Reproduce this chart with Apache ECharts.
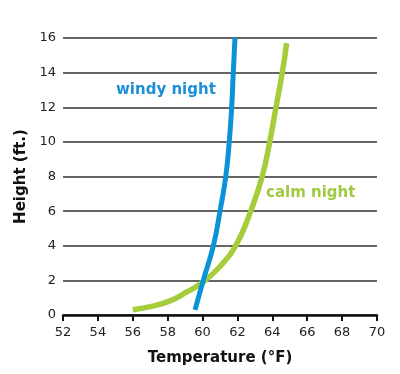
<!DOCTYPE html>
<html>
<head>
<meta charset="utf-8">
<script src="https://cdn.jsdelivr.net/npm/echarts@6/dist/echarts.min.js"></script>
<style>html,body{margin:0;padding:0;background:#fff}#c{width:400px;height:374px}</style>
</head>
<body>
<div id="c"></div>
<script>
// Data
var windyTemp   = [59.57, 60.04, 60.62, 61.0, 61.33, 61.53, 61.67, 61.76, 61.86];
var windyHeight = [0.3,   2,     4,     6,    8,     10,    12,    14,    16];
var calmTemp    = [56.0, 57.0, 58.1, 59.1, 60.05, 61.0, 61.9, 62.76, 63.42, 63.85, 64.21, 64.57, 64.82];
var calmHeight  = [0.3,  0.48, 0.8,  1.33, 1.92,  2.8,  4,    6,     8,     10,    12,    14,    15.7];
var xTicks = [52, 54, 56, 58, 60, 62, 64, 66, 68, 70];
var yTicks = [0, 2, 4, 6, 8, 10, 12, 14, 16];
var seriesNames = ['windy night', 'calm night'];

function pairs(xs, ys){ return xs.map(function(x,i){ return [x, ys[i]]; }); }

var chart = echarts.init(document.getElementById('c'), null, {renderer:'canvas'});
var font = '"DejaVu Sans", sans-serif';
chart.setOption({
  animation:false,
  grid:{left:63, right:23, top:38, bottom:59},
  xAxis:{
    type:'value', min:xTicks[0], max:xTicks[xTicks.length-1], interval:2,
    name:'Temperature (°F)', nameLocation:'middle', nameGap:36,
    nameTextStyle:{fontFamily:font, fontWeight:'bold', fontSize:15, color:'#111'},
    axisLine:{show:true, lineStyle:{color:'#111', width:2.5}},
    axisTick:{show:true, length:6, lineStyle:{color:'#111', width:2}},
    axisLabel:{fontFamily:font, fontSize:13, color:'#222', margin:11},
    splitLine:{show:false}
  },
  yAxis:{
    type:'value', min:yTicks[0], max:yTicks[yTicks.length-1], interval:2,
    name:'Height (ft.)', nameLocation:'middle', nameGap:29,
    nameTextStyle:{fontFamily:font, fontWeight:'bold', fontSize:15, color:'#111'},
    axisLine:{show:false}, axisTick:{show:false},
    axisLabel:{fontFamily:font, fontSize:13, color:'#222', margin:7},
    splitLine:{show:true, lineStyle:{color:'#333', width:1.5}}
  },
  series:[
    {name:seriesNames[0], type:'line', data:pairs(windyTemp, windyHeight), smooth:0.5,
     showSymbol:false, lineStyle:{color:'#0a93d8', width:5, cap:'butt'}, z:3},
    {name:seriesNames[1], type:'line', data:pairs(calmTemp, calmHeight), smooth:0.5,
     showSymbol:false, lineStyle:{color:'#a5cc3a', width:5.5, cap:'butt'}, z:2}
  ],
  graphic:[
    {type:'text', left:116, top:83, style:{text:seriesNames[0], fill:'#1a90d6', font:'bold 15px '+font}},
    {type:'text', left:266, top:186, style:{text:seriesNames[1], fill:'#9fc93e', font:'bold 15px '+font}}
  ]
});
</script>
</body>
</html>
